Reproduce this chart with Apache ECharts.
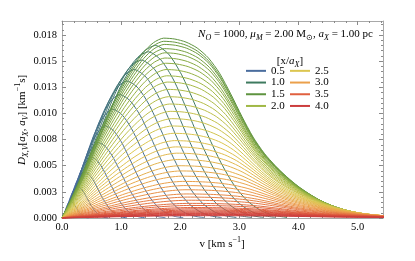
<!DOCTYPE html>
<html><head><meta charset="utf-8">
<script src="https://cdn.jsdelivr.net/npm/echarts@6/dist/echarts.min.js"></script>
<style>html,body{margin:0;padding:0;background:#fff}#c{width:415px;height:261px}</style>
</head><body><div id="c"></div>
<script>
// ---- axis ticks / labels ----
const xTickValues = [0, 1, 2, 3, 4, 5];
const xMinorValues = [0.2,0.4,0.6,0.8,1.2,1.4,1.6,1.8,2.2,2.4,2.6,2.8,3.2,3.4,3.6,3.8,4.2,4.4,4.6,4.8,5.2,5.4];
const yTickValues = [0,0.0025,0.005,0.0075,0.01,0.0125,0.015,0.0175];
const yMinorValues = [0.0005,0.001,0.0015,0.002,0.003,0.0035,0.004,0.0045,0.0055,0.006,0.0065,0.007,0.008,0.0085,0.009,0.0095,0.0105,0.011,0.0115,0.012,0.013,0.0135,0.014,0.0145,0.0155,0.016,0.0165,0.017,0.018,0.0185];
const legendNames = ['0.5','1.0','1.5','2.0','2.5','3.0','3.5','4.0'];

// ---- curves with x/a_X < 1.5 (narrow arches: peak position, height and end) ----
const darkX     = [0.18,0.24,0.31,0.37,0.44,0.5,0.57,0.64,0.7,0.77,0.84,0.9,1.0];
const darkPeakV = [0.14,0.26,0.38,0.50,0.62,0.74,0.86,0.98,1.10,1.22,1.34,1.46,1.58];
const darkPeakD = [0.0016,0.0030,0.0044,0.0058,0.0072,0.0088,0.0104,0.0118,0.0131,0.0142,0.0151,0.0159,0.0165];
const darkEndV  = [0.45,0.78,1.10,1.40,1.75,2.05,2.40,2.70,2.95,3.20,3.40,3.60,3.80];
// normalised profile: rising part (v / v_peak) and falling part ((v - v_peak)/(v_end - v_peak))
const darkLeftU = [0,0.125,0.25,0.375,0.5,0.625,0.75,0.875,1.0];
const darkLeftS = [0,0.12,0.26,0.43,0.6,0.76,0.88,0.965,1.0];
const darkRightW = [0.1,0.2,0.3,0.4,0.5,0.6,0.7,0.8,0.9,1.0];
const darkRightS = [0.95,0.83,0.66,0.48,0.32,0.19,0.1,0.045,0.016,0.004];

// ---- curves with x/a_X >= 1.5 (broad arches) ----
const archX = [1.50,1.56,1.62,1.68,1.74,1.80,1.86,1.92,2.00,2.06,2.12,2.18,2.24,2.30,2.36,2.42,2.50,2.56,2.62,2.68,2.74,2.80,2.88,2.94,3.00,3.06,3.12,3.18,3.26,3.32,3.38,3.44,3.50,3.56,3.62,3.68,3.74,3.80,3.86,3.91,3.96,4.00];
const archPeakV = [1.72,1.72,1.73,1.73,1.74,1.74,1.75,1.76,1.77,1.78,1.79,1.80,1.82,1.83,1.85,1.86,1.88,1.90,1.92,1.94,1.96,1.98,2.00,2.02,2.04,2.06,2.08,2.10,2.12,2.14,2.15,2.16,2.17,2.18,2.19,2.20,2.20,2.20,2.20,2.20,2.20,2.20];
const archPeakD = [0.0172,0.0169,0.0166,0.0162,0.0158,0.0153,0.0148,0.0142,0.0136,0.0130,0.0123,0.0116,0.0109,0.0102,0.0095,0.0088,0.0081,0.0074,0.0068,0.0062,0.0056,0.0050,0.0045,0.0040,0.0035,0.0031,0.0027,0.0023,0.0020,0.0017,0.0014,0.0012,0.0010,0.00088,0.00076,0.00066,0.00057,0.00049,0.00042,0.00035,0.00028,0.00022];
const archEndV = [5.50,5.51,5.52,5.54,5.55,5.57,5.59,5.62,5.64,5.67,5.70,5.74,5.77,5.81,5.86,5.90,5.95,6.01,6.06,6.11,6.17,6.24,6.30,6.38,6.46,6.53,6.61,6.71,6.79,6.89,7.00,7.10,7.21,7.28,7.37,7.46,7.54,7.64,7.73,7.84,7.97,8.12];
// normalised profile: rising part (v / v_peak) and falling part ((v - v_peak)/(v_end - v_peak))
const archLeftU = [0,0.1,0.2,0.3,0.4,0.5,0.6,0.7,0.8,0.9,1.0];
const archLeftS = [0,0.118,0.245,0.385,0.515,0.635,0.745,0.84,0.92,0.975,1.0];
const archRightW = [0.05,0.1,0.15,0.2,0.25,0.3,0.35,0.4,0.45,0.5,0.55,0.6,0.65,0.7,0.75,0.8,0.85,0.9,0.95,1.0];
const archRightS = [0.995,0.978,0.945,0.89,0.805,0.69,0.565,0.45,0.36,0.29,0.23,0.178,0.135,0.098,0.07,0.048,0.032,0.02,0.012,0.006];

// ---- colour scale (style) ----
const gradX = [0,0.5,1.0,1.5,2.0,2.5,3.0,3.5,4.0];
const gradC = ['#3d5a99','#4a6d9e','#3e7a5f','#5e933f','#a0b845','#dcc650','#eba04b','#e0603f','#cc3d3d'];
function hex2rgb(h){return [parseInt(h.substr(1,2),16),parseInt(h.substr(3,2),16),parseInt(h.substr(5,2),16)];}
function colorAt(x){
  if (x<=gradX[0]) return gradC[0];
  for (let i=1;i<gradX.length;i++){
    if (x<=gradX[i]){
      const t=(x-gradX[i-1])/(gradX[i]-gradX[i-1]);
      const a=hex2rgb(gradC[i-1]), b=hex2rgb(gradC[i]);
      return 'rgb('+a.map((c,j)=>Math.round(c+(b[j]-c)*t)).join(',')+')';
    }
  }
  return gradC[gradC.length-1];
}
function nameFor(x, k, p){
  const s = x.toFixed(1);
  return (legendNames.indexOf(s)>=0 && Math.abs(x-parseFloat(s))<1e-9) ? s : p+k;
}
const FONT = '"Liberation Serif", "Times New Roman", serif';

const series = [];
function lineSeries(name, data, color){
  return {type:'line', name, data, symbol:'none', showSymbol:false, smooth:0.25,
    lineStyle:{width:1, color}, itemStyle:{color}, silent:true, animation:false,
    emphasis:{disabled:true}, xAxisIndex:0, yAxisIndex:0};
}
function archData(vp, h, ve, lu, ls, rw, rs){
  return lu.map((u,i)=>[u*vp, ls[i]*h]).concat(rw.map((w,i)=>[vp+w*(ve-vp), rs[i]*h]));
}
darkX.forEach((x,k)=>{
  series.push(lineSeries(nameFor(x,k,'d'),
    archData(darkPeakV[k], darkPeakD[k], darkEndV[k], darkLeftU, darkLeftS, darkRightW, darkRightS), colorAt(x)));
});
archX.forEach((x,k)=>{
  series.push(lineSeries(nameFor(x,k,'a'),
    archData(archPeakV[k], archPeakD[k], archEndV[k], archLeftU, archLeftS, archRightW, archRightS), colorAt(x)));
});

const VMAX = 5.43, DMAX = 0.01884;
const frameColor = '#a8a8a8', tickColor = '#8a8a8a';
function xAx(pos, major, labels){
  return {type:'value', min:0, max:VMAX, position:pos, gridIndex:0,
    axisLine:{show:major, onZero:false, lineStyle:{color:frameColor, width:1}},
    axisTick:{show:true, inside:true, length: major?4:2, customValues: major?xTickValues:xMinorValues, lineStyle:{color:tickColor, width:1}},
    axisLabel:{show:labels, customValues:xTickValues, formatter:(v)=>v.toFixed(1), fontFamily:FONT, fontSize:10.5, color:'#000', margin:4},
    splitLine:{show:false}, minorTick:{show:false}, minorSplitLine:{show:false}};
}
function yAx(pos, major, labels){
  return {type:'value', min:0, max:DMAX, position:pos, gridIndex:0,
    axisLine:{show:major, onZero:false, lineStyle:{color:frameColor, width:1}},
    axisTick:{show:true, inside:true, length: major?4:2, customValues: major?yTickValues:yMinorValues, lineStyle:{color:tickColor, width:1}},
    axisLabel:{show:labels, customValues:yTickValues, formatter:(v)=>(Math.round(v*1000+1e-6)/1000).toFixed(3), fontFamily:FONT, fontSize:10.5, color:'#000', margin:5},
    splitLine:{show:false}, minorTick:{show:false}, minorSplitLine:{show:false}};
}

const rich = {
  i:{fontStyle:'italic', fontFamily:FONT, fontSize:11, lineHeight:16},
  is:{fontStyle:'italic', fontFamily:FONT, fontSize:8, lineHeight:9, verticalAlign:'bottom'},
  s:{fontFamily:FONT, fontSize:8, lineHeight:9, verticalAlign:'bottom'},
  sup:{fontFamily:FONT, fontSize:8, lineHeight:9, verticalAlign:'top'}
};
function txt(x,y,text,align,rot){
  return {type:'text', x, y, rotation: rot||0, silent:true, z:100,
    style:{text, fill:'#000', fontFamily:FONT, fontSize:11, lineHeight:16, align, verticalAlign:'middle', rich}};
}

const chart = echarts.init(document.getElementById('c'), null, {renderer:'canvas'});
chart.setOption({
  animation:false,
  backgroundColor:'#fff',
  grid:{left:62, right:32, top:21, bottom:43, containLabel:false, outerBoundsMode:'none'},
  xAxis:[xAx('bottom',true,true), xAx('bottom',false,false), xAx('top',true,false), xAx('top',false,false)],
  yAxis:[yAx('left',true,true), yAx('left',false,false), yAx('right',true,false), yAx('right',false,false)],
  legend:[
    {orient:'vertical', left:246, top:65, itemWidth:20, itemHeight:2, itemGap:0, icon:'rect', padding:0, selectedMode:false,
     textStyle:{fontFamily:FONT, fontSize:11, color:'#000', lineHeight:11.7},
     data:legendNames.slice(0,4).map(n=>({name:n, itemStyle:{color:colorAt(parseFloat(n)), borderWidth:0}}))},
    {orient:'vertical', left:290, top:65, itemWidth:20, itemHeight:2, itemGap:0, icon:'rect', padding:0, selectedMode:false,
     textStyle:{fontFamily:FONT, fontSize:11, color:'#000', lineHeight:11.7},
     data:legendNames.slice(4).map(n=>({name:n, itemStyle:{color:colorAt(parseFloat(n)), borderWidth:0}}))}
  ],
  graphic:[
    txt(373, 34, '{i|N}{is|O} = 1000, {i|μ}{is|M} = 2.00 M{s|⊙}, {i|a}{is|X} = 1.00 pc', 'right'),
    txt(290, 61, '[x/{i|a}{is|X}]', 'center'),
    txt(222, 244, 'v [km s{sup|−1}]', 'center'),
    txt(22, 120, '{i|D}{is|X,V}[{i|a}{is|X}, {i|a}{is|V}] [km{sup|−1}s]', 'center', Math.PI/2)
  ],
  series
});
</script></body></html>
